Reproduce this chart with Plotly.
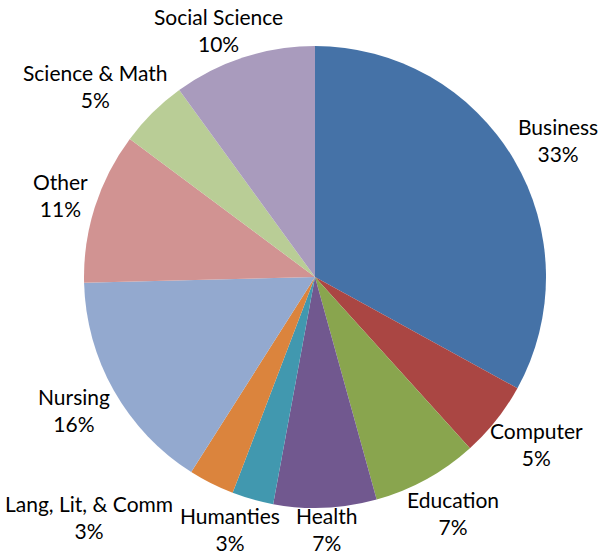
import math
import plotly.graph_objects as go

# ---- data ----
categories = ["Business", "Computer", "Education", "Health", "Humanties",
              "Lang, Lit, & Comm", "Nursing", "Other", "Science & Math", "Social Science"]
shares = [33.0, 5.3, 7.4, 7.2, 2.9, 3.2, 15.6, 10.6, 4.8, 10.0]

# ---- style ----
colors = ["#4572A7", "#AA4643", "#89A54E", "#71588F", "#4198AF",
          "#DB843D", "#93A9CF", "#D19392", "#B9CD96", "#A99BBD"]
W, H = 604, 555
CX, CY, R = 315, 277, 231
FONT = "Lato"
FS = 21
GAP = 10
SEP = 20

fig = go.Figure(go.Pie(
    labels=categories, values=shares, sort=False, direction="clockwise",
    rotation=0, marker=dict(colors=colors, line=dict(width=0)),
    textinfo="none", hoverinfo="label+percent",
    domain=dict(x=[(CX - R) / W, (CX + R) / W], y=[1 - (CY + R) / H, 1 - (CY - R) / H]),
))

# ---- label placement derived from the slice angles ----
total = sum(shares)
boxes = []
cum = 0.0
for lab, v in zip(categories, shares):
    mid = (cum + v / 2) / total * 2 * math.pi
    cum += v
    s, c = math.sin(mid), math.cos(mid)
    pct = f"{round(v / total * 100)}%"
    w = max(len(lab), len(pct)) * FS * 0.49
    h = 56
    px = CX + (R + GAP) * s
    py = CY - (R + GAP) * c
    x = px + s * w / 2
    y = py - c * h / 2
    y = min(max(y, 30), H - 26)
    x = min(max(x, w / 2 + 2), W - w / 2 - 2)
    boxes.append(dict(lab=lab, pct=pct, x=x, y=y, w=w, h=h, ang=mid, s=s, c=c))

# resolve overlaps on the lower-left side by pushing labels further left
placed = [b for b in boxes if not (b["s"] < 0 and b["c"] < 0)]
for b in sorted([b for b in boxes if b["s"] < 0 and b["c"] < 0], key=lambda b: b["ang"]):
    for o in placed:
        if abs(b["y"] - o["y"]) < (b["h"] + o["h"]) / 2 - 10 and abs(b["x"] - o["x"]) < (b["w"] + o["w"]) / 2 + SEP:
            b["x"] = o["x"] - (b["w"] + o["w"]) / 2 - SEP
    b["x"] = max(b["x"], b["w"] / 2 + 2)
    placed.append(b)

annotations = [
    dict(x=b["x"] / W, y=1 - b["y"] / H, xref="paper", yref="paper",
         text=f"{b['lab']}<br>{b['pct']}", showarrow=False,
         xanchor="center", yanchor="middle", align="center",
         font=dict(family=FONT, size=FS, color="#000000"))
    for b in boxes
]

fig.update_layout(
    width=W, height=H, margin=dict(l=0, r=0, t=0, b=0),
    paper_bgcolor="white", plot_bgcolor="white", showlegend=False,
    annotations=annotations,
)

fig.write_html("out.html", config={"displayModeBar": False},
               post_script="document.body.style.margin='0';document.body.style.overflow='hidden';")
